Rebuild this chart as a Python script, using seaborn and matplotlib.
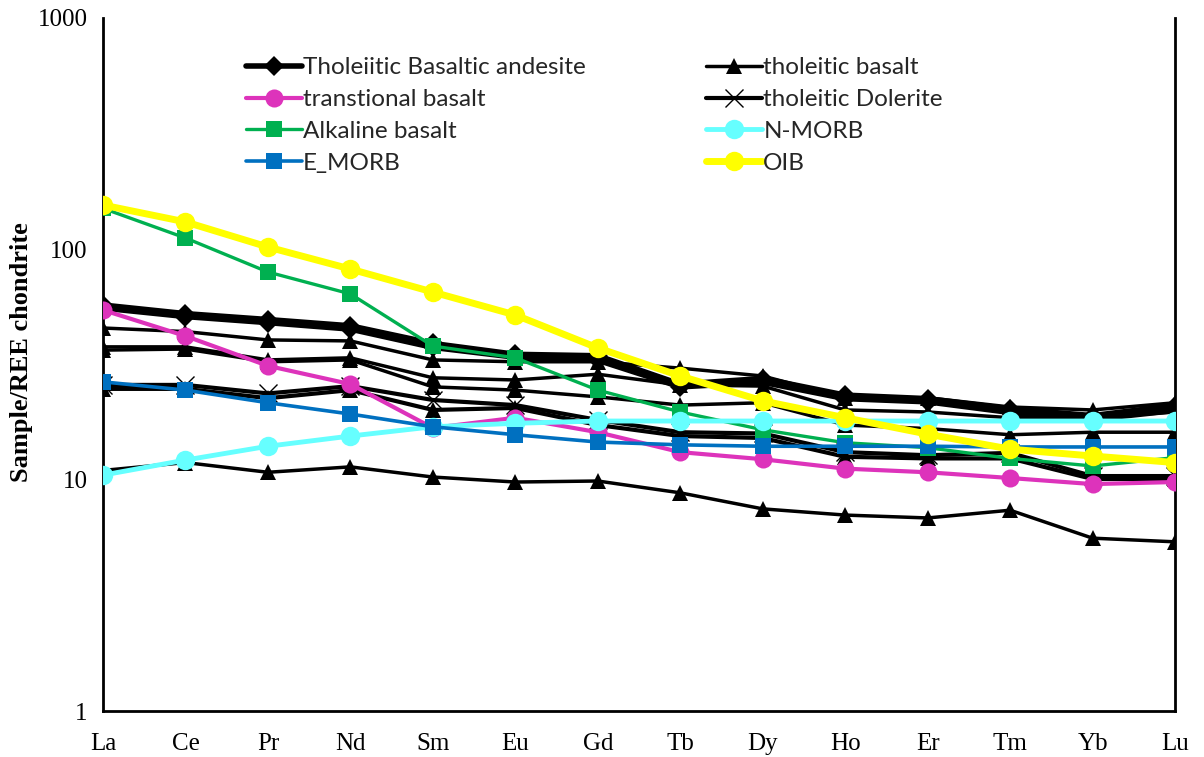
import matplotlib
matplotlib.use("Agg")
import matplotlib.pyplot as plt
import seaborn as sns
import pandas as pd
from matplotlib.lines import Line2D

sns.set_theme(style="white")
plt.rcParams['font.family'] = ['Liberation Serif', 'DejaVu Serif']

elements = ["La", "Ce", "Pr", "Nd", "Sm", "Eu", "Gd", "Tb", "Dy", "Ho", "Er", "Tm", "Yb", "Lu"]

# Tholeiitic basaltic andesite samples
tba_1 = [57.2, 52.5, 49.5, 46.5, 39.0, 35.0, 34.5, 26.0, 27.5, 23.3, 22.5, 20.3, 19.0, 21.0]
tba_2 = [55.5, 51.0, 48.0, 45.0, 37.5, 34.0, 33.0, 25.3, 26.5, 22.5, 21.8, 19.6, 18.3, 20.0]
# Tholeiitic basalt samples
tb_1 = [45.5, 43.9, 40.4, 40.0, 33.1, 32.5, 32.5, 30.5, 28.2, 22.7, 22.7, 20.7, 20.1, 21.6]
tb_2 = [37.7, 37.7, 33.1, 33.8, 27.7, 27.1, 28.7, 25.8, 25.5, 20.1, 19.7, 18.6, 18.6, 19.7]
tb_3 = [36.5, 36.9, 32.5, 33.1, 25.3, 24.5, 22.9, 21.1, 21.6, 17.3, 16.7, 15.7, 16.1, 16.1]
tb_4 = [24.8, 24.8, 22.6, 24.5, 20.1, 20.5, 17.3, 15.5, 15.2, 12.6, 12.4, 12.4, 10.1, 10.1]
tb_5 = [11.0, 11.9, 10.8, 11.4, 10.3, 9.8, 9.9, 8.8, 7.5, 7.05, 6.85, 7.4, 5.6, 5.4]
# Tholeiitic dolerite
td_1 = [25.8, 25.8, 23.7, 25.5, 22.2, 21.1, 18.2, 16.1, 15.9, 13.2, 12.8, 13.1, 10.4, 10.4]
# Other series
transitional = [54.4, 42.0, 31.2, 26.0, 16.8, 18.6, 16.1, 13.2, 12.3, 11.2, 10.8, 10.2, 9.6, 9.8]
alkaline = [150.0, 111.6, 79.5, 63.9, 38.0, 33.8, 24.5, 19.7, 16.5, 14.5, 13.8, 12.4, 11.5, 12.5]
n_morb = [10.5, 12.2, 14.0, 15.5, 17.0, 17.6, 18.0, 18.0, 18.0, 18.0, 18.0, 18.0, 18.0, 18.0]
e_morb = [26.6, 24.5, 21.6, 19.3, 17.0, 15.7, 14.6, 14.2, 14.0, 14.0, 14.0, 13.9, 13.9, 13.9]
oib = [155.0, 131.0, 102.0, 81.9, 65.1, 51.8, 37.3, 28.2, 22.0, 18.6, 15.8, 13.6, 12.7, 11.9]

legend_labels = ["Tholeiitic Basaltic andesite", "transtional basalt", "Alkaline basalt", "E_MORB",
                 "tholeitic basalt", "tholeitic Dolerite", "N-MORB", "OIB"]

fig = plt.figure(figsize=(12.04, 7.57), dpi=100)
ax = fig.add_axes([103 / 1204, 1 - 711 / 757, (1175 - 103) / 1204, (711 - 18) / 757])

def draw(values, color, marker, lw, ms, mew=0, z=2):
    df = pd.DataFrame({"el": elements, "v": values})
    sns.lineplot(data=df, x="el", y="v", ax=ax, color=color, lw=lw, marker=marker,
                 markersize=ms, markeredgewidth=mew, markeredgecolor=color,
                 markerfacecolor=color, zorder=z, sort=False, legend=False)

draw(tb_5, "black", "^", 2.5, 12)
draw(td_1, "black", "x", 3.0, 13, mew=1.0)
draw(tb_4, "black", "^", 3.0, 12)
draw(tb_3, "black", "^", 2.5, 12)
draw(tb_2, "black", "^", 2.5, 12)
draw(tb_1, "black", "^", 2.5, 12)
draw(tba_2, "black", "D", 4.0, 10)
draw(tba_1, "black", "D", 4.0, 10)
draw(transitional, "#DD33BB", "o", 3.0, 13, z=3)
draw(alkaline, "#00B050", "s", 2.4, 12, z=3)
draw(n_morb, "#66FFFF", "o", 3.5, 14, z=3)
draw(e_morb, "#0070C0", "s", 2.6, 12, z=3)
draw(oib, "#FFFF00", "o", 5.0, 14, z=4)

ax.set_yscale("log")
ax.set_ylim(1, 1000)
ax.set_xlim(0, 13)
ax.set_yticks([1, 10, 100, 1000])
ax.set_yticklabels(["1", "10", "100", "1000"])
ax.yaxis.set_minor_locator(matplotlib.ticker.NullLocator())
ax.tick_params(axis="both", labelsize=18, colors="black", length=0)
ax.tick_params(axis="y", pad=11)
ax.tick_params(axis="x", pad=16)
ax.set_xlabel("")
ax.set_ylabel("Sample/REE chondrite", fontsize=19, fontweight="bold", color="black")
ax.yaxis.set_label_coords(-0.0655, 0.518)
for s in ["left", "bottom", "right"]:
    ax.spines[s].set_color("black")
    ax.spines[s].set_linewidth(2)
ax.spines["top"].set_visible(False)
ax.grid(False)

def h(color, marker, lw, ms, mew=0):
    return Line2D([], [], color=color, lw=lw, marker=marker, markersize=ms,
                  markeredgewidth=mew, markeredgecolor=color, markerfacecolor=color)
handles = [h("black", "D", 4.0, 10), h("#DD33BB", "o", 3.0, 13), h("#00B050", "s", 2.4, 12),
           h("#0070C0", "s", 2.6, 12), h("black", "^", 2.5, 12), h("black", "x", 3.0, 13, 1.0),
           h("#66FFFF", "o", 3.5, 14), h("#FFFF00", "o", 5.0, 14)]
ax.legend(handles, legend_labels, ncol=2, frameon=False, loc="upper left",
          bbox_to_anchor=(0.113, 0.975), prop={"family": "Lato", "size": 17.5},
          handlelength=2.3, handletextpad=0.05, columnspacing=4.95, labelspacing=0.445)

fig.savefig("out.png", dpi=100)
